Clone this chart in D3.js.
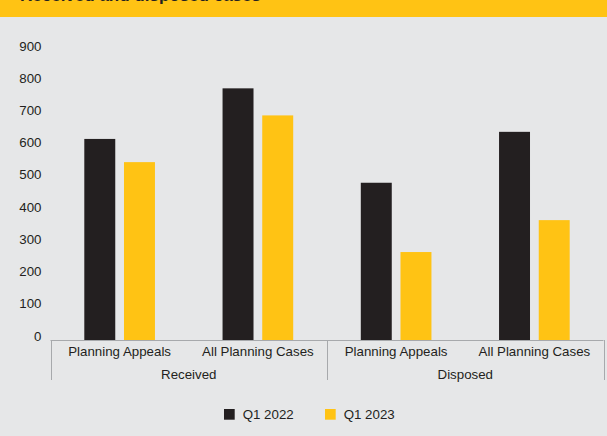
<!DOCTYPE html>
<html>
<head>
<meta charset="utf-8">
<script src="https://cdn.jsdelivr.net/npm/d3@7"></script>
<style>
  html, body { margin: 0; padding: 0; background: #e6e7e8; }
  svg { display: block; font-family: "Liberation Sans", Arial, Helvetica, sans-serif; }
</style>
</head>
<body>
<svg id="chart" width="607" height="436"></svg>
<script>
// Planning cases received and disposed, Q1 2022 vs Q1 2023
const groups = ["Received", "Disposed"];
const subCategories = ["Planning Appeals", "All Planning Cases", "Planning Appeals", "All Planning Cases"];
const subGroup = [0, 0, 1, 1];
const seriesNames = ["Q1 2022", "Q1 2023"];
const q1_2022 = [624, 781, 488, 646];
const q1_2023 = [552, 697, 273, 372];
const yTicks = [0, 100, 200, 300, 400, 500, 600, 700, 800, 900];
const titleText = "Received and disposed cases";

const colors = ["#231f20", "#ffc314"];
const W = 607, H = 436;
const svg = d3.select("#chart");

// header strip
svg.append("rect").attr("x", 0).attr("y", 0).attr("width", W).attr("height", 17).attr("fill", "#ffc314");
svg.append("text").attr("x", 20).attr("y", 1)
  .attr("font-size", 17).attr("font-weight", "bold").attr("fill", "#231f20")
  .text(titleText);

const plot = { left: 50.5, right: 603.5, top: 50, bottom: 340 };

const y = d3.scaleLinear().domain([0, 900]).range([plot.bottom, plot.top]);

const keys = d3.range(subCategories.length);
const x0 = d3.scaleBand().domain(keys).range([plot.left, plot.right])
  .paddingInner(0.489).paddingOuter(0.2445);
const x1 = d3.scaleBand().domain(d3.range(seriesNames.length)).range([0, x0.bandwidth()])
  .paddingInner(0.22).paddingOuter(0);

// y axis labels (no line, no ticks)
const yAxis = d3.axisLeft(y).tickValues(yTicks).tickSize(0).tickPadding(9).tickFormat(d3.format("d"));
const gy = svg.append("g").attr("transform", `translate(${plot.left},0)`).call(yAxis);
gy.select(".domain").remove();
gy.selectAll("text").attr("dy", "0").attr("font-size", 13.3)
  .attr("fill", "#231f20").attr("font-family", "Liberation Sans, Arial, sans-serif");

// bars
const seriesValues = [q1_2022, q1_2023];
const rows = keys.map(i => ({ i, vals: seriesValues.map(s => s[i]) }));
const cat = svg.append("g").selectAll("g").data(rows).join("g")
  .attr("transform", d => `translate(${x0(d.i)},0)`);
cat.selectAll("rect").data(d => d.vals.map((v, s) => ({ v, s }))).join("rect")
  .attr("x", d => x1(d.s))
  .attr("width", x1.bandwidth())
  .attr("y", d => y(d.v))
  .attr("height", d => y(0) - y(d.v))
  .attr("fill", d => colors[d.s]);

// category axis frame
const lineColor = "#a7a9ac";
const frame = svg.append("g").attr("stroke", lineColor).attr("stroke-width", 1).attr("fill", "none");
frame.append("line").attr("x1", plot.left).attr("x2", plot.right).attr("y1", plot.bottom + 0.5).attr("y2", plot.bottom + 0.5);
const dividerXs = [plot.left];
groups.forEach((g, gi) => {
  const members = keys.filter(k => subGroup[k] === gi);
  const end = x0(members[members.length - 1]) + x0.bandwidth() + x0.step() * x0.paddingInner() / 2;
  dividerXs.push(Math.min(end, plot.right));
});
dividerXs.forEach(xv => {
  frame.append("line").attr("x1", Math.round(xv) + 0.5).attr("x2", Math.round(xv) + 0.5)
    .attr("y1", plot.bottom).attr("y2", plot.bottom + 40);
});

// sub-category labels
svg.append("g").selectAll("text").data(keys).join("text")
  .attr("x", k => x0(k) + x0.bandwidth() / 2)
  .attr("y", plot.bottom + 16)
  .attr("text-anchor", "middle").attr("font-size", 13.3).attr("fill", "#231f20")
  .text(k => subCategories[k]);

// group labels
svg.append("g").selectAll("text").data(groups).join("text")
  .attr("x", (g, gi) => (dividerXs[gi] + dividerXs[gi + 1]) / 2)
  .attr("y", plot.bottom + 39)
  .attr("text-anchor", "middle").attr("font-size", 13.3).attr("fill", "#231f20")
  .text(g => g);

// legend
const legendX = [224, 325];
const leg = svg.append("g").selectAll("g").data(seriesNames).join("g")
  .attr("transform", (d, i) => `translate(${legendX[i]},409)`);
leg.append("rect").attr("width", 10.7).attr("height", 10.7).attr("fill", (d, i) => colors[i]);
leg.append("text").attr("x", 18.7).attr("y", 10).attr("font-size", 13.3).attr("fill", "#231f20").text(d => d);
</script>
</body>
</html>
